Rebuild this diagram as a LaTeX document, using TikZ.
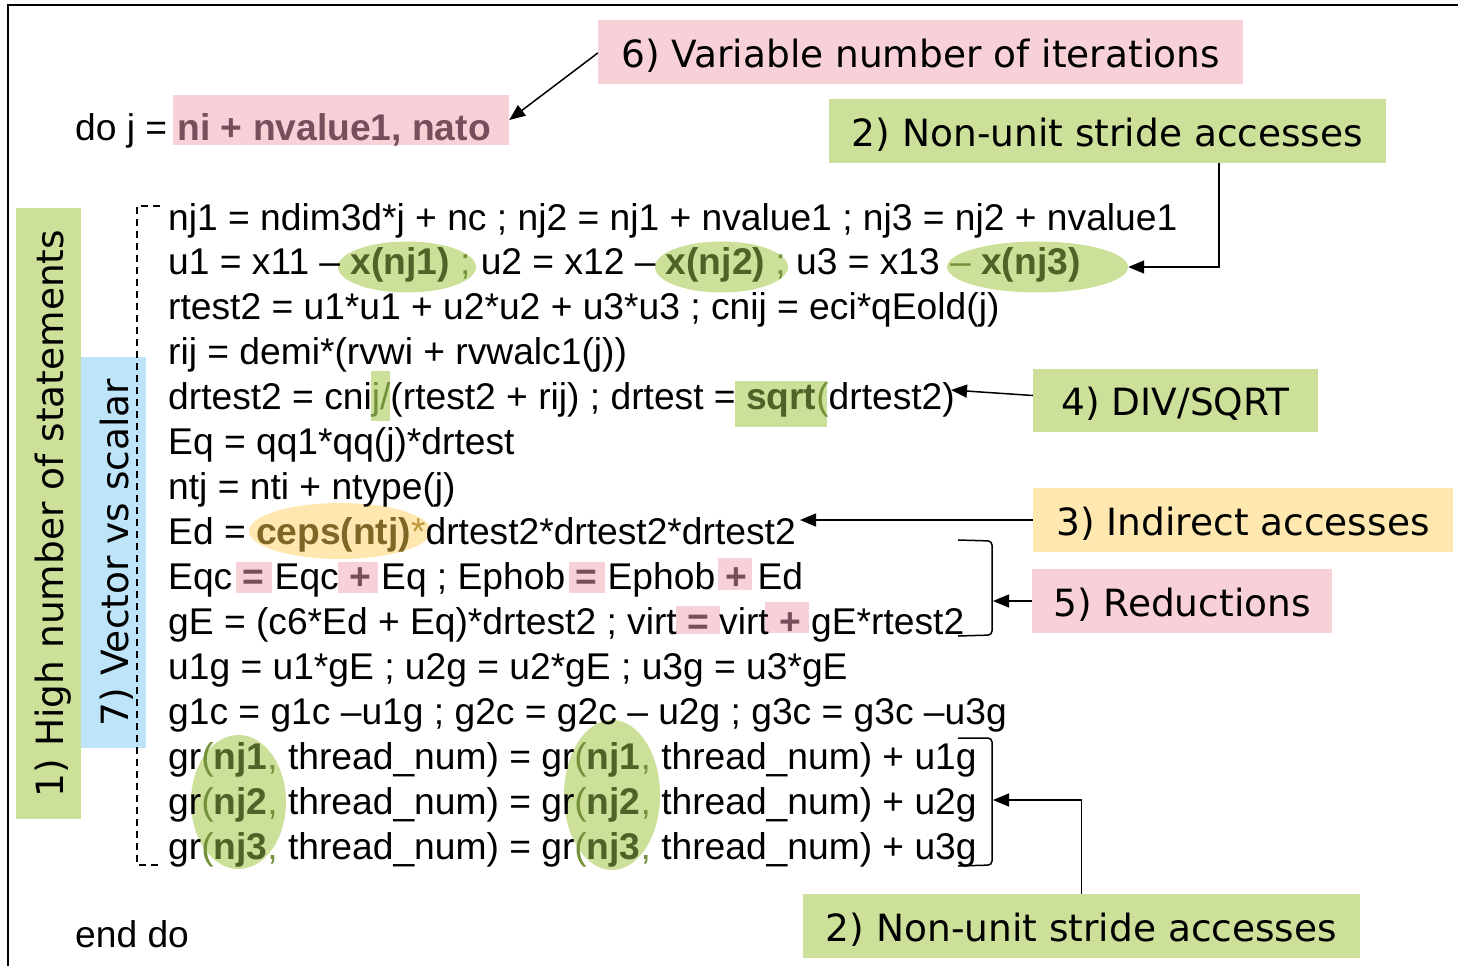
\documentclass[tikz,border=0pt]{standalone}
\usepackage{fontspec}
\setmainfont{Liberation Sans}
\newfontfamily\labfont{DejaVu Sans}
\usetikzlibrary{shapes.geometric,arrows.meta}
\definecolor{greenhl}{RGB}{204,224,153}
\definecolor{pinkhl}{RGB}{247,208,216}
\definecolor{yellowhl}{RGB}{254,232,176}
\definecolor{bluehl}{RGB}{190,228,250}
\definecolor{pinktxt}{RGB}{117,79,92}
\definecolor{greentxt}{RGB}{79,98,40}
\definecolor{greenmid}{RGB}{115,145,58}
\definecolor{goldtxt}{RGB}{127,102,38}
\definecolor{goldmid}{RGB}{190,150,60}
\newcommand\hlG[1]{\textcolor{greentxt}{\bfseries #1}}
\newcommand\hlM[1]{\textcolor{greenmid}{#1}}
\newcommand\hlP[1]{\textcolor{pinktxt}{\bfseries #1}}
\newcommand\hlY[1]{\textcolor{goldtxt}{\bfseries #1}}
\newcommand\hlYm[1]{\textcolor{goldmid}{#1}}
\begin{document}
\begin{tikzpicture}[x=1pt,y=-1pt,
  code/.style={anchor=base west, inner sep=0pt, font=\fontsize{37.2}{44}\selectfont},
  lab/.style={inner sep=0pt, font=\labfont\fontsize{37.5}{45}\selectfont, text height=30pt, text depth=0pt, minimum height=64pt},
  rectg/.style={fill=greenhl, draw=none, inner sep=0pt},
  rectp/.style={fill=pinkhl, draw=none, inner sep=0pt},
  ellg/.style={ellipse, fill=greenhl, draw=none, inner sep=0pt},
  elly/.style={ellipse, fill=yellowhl, draw=none, inner sep=0pt},
  arr/.style={line width=1.5pt, -{Triangle[length=16pt,width=13pt]}},
  brk/.style={line width=1.5pt, rounded corners=4pt},
  frame/.style={line width=2.5pt}
]
\useasboundingbox (0,0) rectangle (1458,966);
% frame
\draw[frame] (8,966) -- (8,5) -- (1460,5);

% vertical bars
\node[lab, fill=greenhl, rotate=90, minimum width=611pt, minimum height=65pt] (v1) at (48.5,513.5) {1) High number of statements};
\node[lab, fill=bluehl, rotate=90, minimum width=391pt, minimum height=65pt] (v7) at (113.5,552.5) {7) Vector vs scalar};

% dashed bracket
\draw[line width=1.3pt, dash pattern=on 7pt off 5pt] (160,206) -- (137,206) -- (137,865) -- (160,865);

% highlights
\node[rectp, minimum width=336pt, minimum height=50pt] (itr) at (341,120) {};
\node[ellg, minimum width=138pt, minimum height=51pt] (e1) at (407,267) {};
\node[ellg, minimum width=133pt, minimum height=51pt] (e2) at (721.5,267) {};
\node[ellg, minimum width=181pt, minimum height=51pt] (e3) at (1037.5,267) {};
\node[rectg, minimum width=19pt, minimum height=50pt] (hdiv) at (380,396) {};
\node[rectg, minimum width=92pt, minimum height=46pt] (hsq) at (781,404) {};
\node[elly, minimum width=182pt, minimum height=56pt] (ey) at (340,531) {};
\node[rectp, minimum width=36pt, minimum height=31pt] (p1) at (254,577.5) {};
\node[rectp, minimum width=40pt, minimum height=31pt] (p2) at (358,577.5) {};
\node[rectp, minimum width=36pt, minimum height=31pt] (p3) at (587,577.5) {};
\node[rectp, minimum width=34pt, minimum height=32pt] (p4) at (735,574) {};
\node[rectp, minimum width=44pt, minimum height=28pt] (p5) at (698,620) {};
\node[rectp, minimum width=44pt, minimum height=31pt] (p6) at (787,617.5) {};
\node[ellg, minimum width=95pt, minimum height=134pt] (e4) at (238.5,802) {};
\node[ellg, minimum width=96pt, minimum height=150pt] (e5) at (612,795) {};

% code
\node[code] (L0) at (75,140) {do j = \hlP{ni + nvalue1, nato}};
\node[code] (L1) at (168,230) {nj1 = ndim3d*j + nc ; nj2 = nj1 + nvalue1 ; nj3 = nj2 + nvalue1};
\node[code] (L2) at (168,274.9) {u1 = x11 – \hlG{x(nj1)} \hlM{;} u2 = x12 – \hlG{x(nj2)} \hlM{;} u3 = x13 \hlM{–} \hlG{x(nj3)}};
\node[code] (L3) at (168,319.9) {rtest2 = u1*u1 + u2*u2 + u3*u3 ; cnij = eci*qEold(j)};
\node[code] (L4) at (168,364.8) {rij = demi*(rvwi + rvwalc1(j))};
\node[code] (L5) at (168,409.7) {drtest2 = cni\hlM{j/}(rtest2 + rij) ; drtest = \hlG{sqrt}\hlM{(}drtest2)};
\node[code] (L6) at (168,454.7) {Eq = qq1*qq(j)*drtest};
\node[code] (L7) at (168,499.6) {ntj = nti + ntype(j)};
\node[code] (L8) at (168,544.5) {Ed = \hlY{ceps(ntj)}\hlYm{*}drtest2*drtest2*drtest2};
\node[code] (L9) at (168,589.4) {Eqc \hlP{=} Eqc \hlP{+} Eq ; Ephob \hlP{=} Ephob \hlP{+} Ed};
\node[code] (L10) at (168,634.4) {gE = (c6*Ed + Eq)*drtest2 ; virt \hlP{=} virt \hlP{+} gE*rtest2};
\node[code] (L11) at (168,679.3) {u1g = u1*gE ; u2g = u2*gE ; u3g = u3*gE};
\node[code] (L12) at (168,724.2) {g1c = g1c –u1g ; g2c = g2c – u2g ; g3c = g3c –u3g};
\node[code] (L13) at (168,769.1) {gr\hlM{(}\hlG{nj1}\hlM{,} thread\_num) = gr\hlM{(}\hlG{nj1}\hlM{,} thread\_num) + u1g};
\node[code] (L14) at (168,814.1) {gr\hlM{(}\hlG{nj2}\hlM{,} thread\_num) = gr\hlM{(}\hlG{nj2}\hlM{,} thread\_num) + u2g};
\node[code] (L15) at (168,859) {gr\hlM{(}\hlG{nj3}\hlM{,} thread\_num) = gr\hlM{(}\hlG{nj3}\hlM{,} thread\_num) + u3g};
\node[code] (L16) at (75,947) {end do};

% right brackets
\draw[brk] (958,540) -- (992,541) -- (992,635) -- (958,636);
\draw[brk] (958,738) -- (992,738) -- (992,865) -- (958,866);
\coordinate (b1) at (993,601);
\coordinate (b2) at (993,800);
\coordinate (sqend) at (951,390);
\coordinate (edend) at (800,520);

% labels
\node[lab, fill=pinkhl, minimum width=645pt] (lab6) at (920.5,52) {6) Variable number of iterations};
\node[lab, fill=greenhl, minimum width=557pt] (lab2a) at (1107.5,131) {2) Non-unit stride accesses};
\node[lab, fill=greenhl, minimum width=285pt, minimum height=63pt] (lab4) at (1175.5,400.5) {4) DIV/SQRT};
\node[lab, fill=yellowhl, minimum width=420pt] (lab3) at (1243,520) {3) Indirect accesses};
\node[lab, fill=pinkhl, minimum width=300pt] (lab5) at (1182,601) {5) Reductions};
\node[lab, fill=greenhl, minimum width=557pt] (lab2b) at (1081.5,926) {2) Non-unit stride accesses};

% arrows
\draw[arr] ([yshift=-1pt]lab6.west) -- (itr.east);
\draw[arr] ([xshift=111.5pt]lab2a.south) |- (e3.east);
\draw[arr] ([yshift=5pt]lab4.west) -- (sqend);
\draw[arr] (lab3.west) -- (edend);
\draw[arr] (lab5.west) -- (b1);
\draw[arr] (lab2b.north) |- (b2);
\end{tikzpicture}
\end{document}
